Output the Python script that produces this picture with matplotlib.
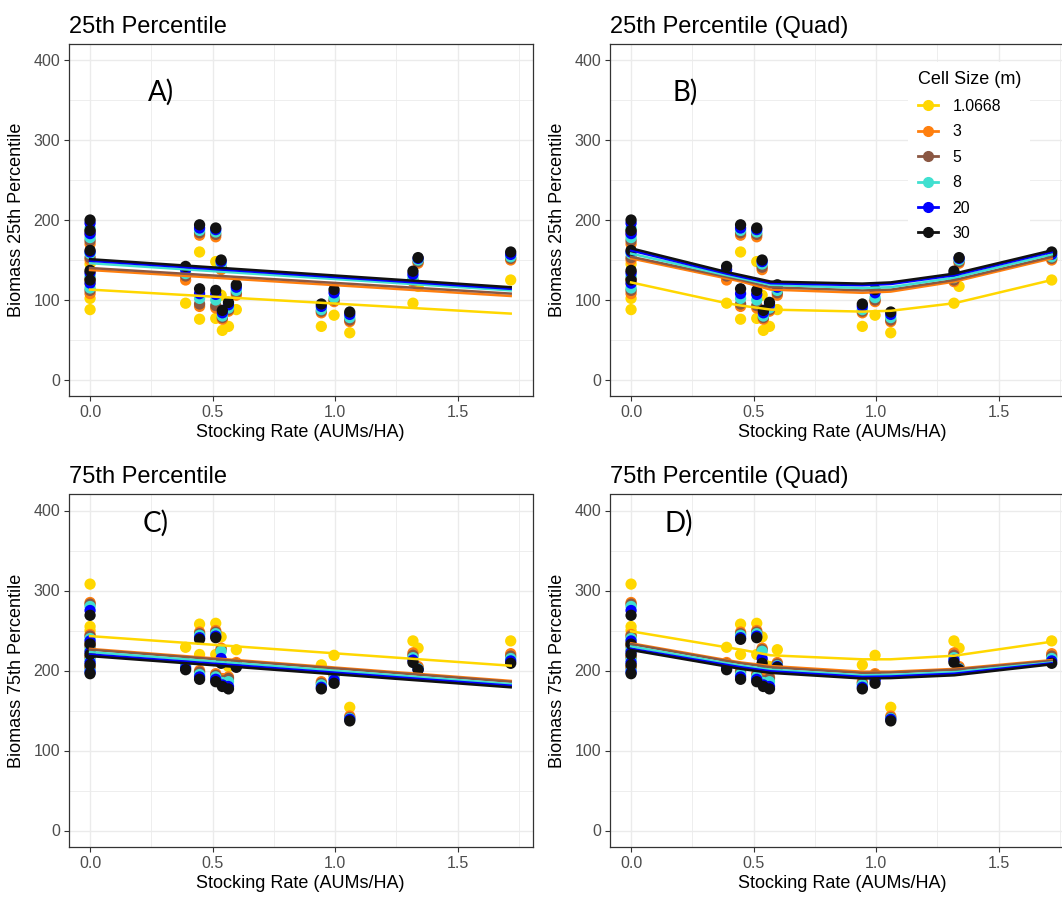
import matplotlib.pyplot as plt
from matplotlib.lines import Line2D

plt.rcParams['font.family'] = ['Liberation Sans', 'DejaVu Sans']

# cell sizes and colours
cells = ['1.0668', '3', '5', '8', '20', '30']
colors = ['#FFD700', '#FF7F0E', '#8B5742', '#40E0D0', '#0000FF', '#111111']

# stocking rate per site (AUMs/HA)
sr = [0, 0, 0, 0, 0, 0.39, 0.447, 0.447, 0.513, 0.513, 0.535, 0.54, 0.565, 0.597,
      0.944, 0.996, 1.06, 1.318, 1.339, 1.717]

# 25th percentile biomass per cell size
p25_1068 = [145, 135, 120, 102, 88, 96, 160, 76, 148, 77, 106, 62, 67, 88, 67, 81, 59, 96, 117, 125]
p25_3 = [182, 170, 150, 125, 108, 125, 181, 92, 179, 90, 138, 76, 86, 106, 84, 98, 73, 123, 146, 150]
p25_5 = [186, 174, 153, 127, 112, 130, 184, 95, 182, 93, 141, 78, 88, 109, 86, 100, 75, 125, 148, 152]
p25_8 = [190, 178, 158, 130, 115, 133, 187, 102, 185, 100, 145, 80, 90, 112, 88, 103, 78, 128, 150, 154]
p25_20 = [196, 183, 160, 134, 121, 138, 190, 108, 188, 107, 148, 84, 94, 116, 92, 109, 82, 132, 152, 157]
p25_30 = [200, 187, 162, 137, 125, 142, 194, 114, 190, 112, 150, 87, 97, 119, 95, 113, 85, 136, 153, 160]

# 75th percentile biomass per cell size
p75_1068 = [308, 255, 250, 235, 225, 229, 258, 220, 259, 220, 242, 210, 205, 226, 207, 219, 154, 237, 228, 237]
p75_3 = [285, 245, 232, 218, 205, 210, 248, 200, 250, 196, 228, 190, 192, 210, 186, 196, 143, 222, 205, 221]
p75_5 = [283, 243, 230, 216, 203, 208, 246, 198, 248, 194, 226, 187, 190, 208, 184, 194, 141, 219, 203, 218]
p75_8 = [280, 240, 226, 213, 200, 205, 244, 195, 246, 192, 224, 185, 186, 206, 182, 190, 140, 216, 202, 215]
p75_20 = [275, 237, 223, 210, 198, 203, 241, 192, 243, 189, 215, 182, 180, 205, 179, 188, 139, 213, 201, 212]
p75_30 = [269, 233, 220, 207, 196, 201, 239, 189, 241, 186, 209, 180, 177, 204, 177, 184, 137, 210, 201, 209]

# fitted lines
lin_x = [0, 1.717]
fit25_lin = [[113, 83], [137.5, 105], [140, 108], [146, 112], [149, 114], [151, 116]]
fit75_lin = [[243, 206], [227, 187], [226, 186], [223, 183], [220, 181], [218, 179]]
quad_x = [0, 0.39, 0.45, 0.57, 0.944, 1.06, 1.32, 1.717]
fit25_quad = [[122, 96, 93, 88, 85.5, 86.5, 96, 125],
              [152, 127, 123, 113, 109, 110.5, 123, 152],
              [154, 129, 125, 116, 112, 113, 125, 154],
              [158, 131, 127, 119, 115, 116, 128, 157],
              [162, 133, 129, 121, 118.5, 120, 131, 160],
              [164.6, 135, 131, 123, 120.5, 122, 133, 162]]
fit75_quad = [[249, 229, 226, 219, 214, 214, 218.5, 236],
              [234, 213, 210, 205.6, 198.5, 198.5, 202, 213],
              [233, 212, 209, 204, 197, 197.5, 201, 212],
              [230, 209, 206, 201, 194, 194.5, 198, 210],
              [227, 207, 204, 199, 192, 192.5, 196, 209],
              [225.6, 205, 202, 197, 190, 190.5, 194, 207.7]]

p25 = [p25_1068, p25_3, p25_5, p25_8, p25_20, p25_30]
p75 = [p75_1068, p75_3, p75_5, p75_8, p75_20, p75_30]

W, H = 1062, 899
fig = plt.figure(figsize=(W / 100, H / 100), dpi=100)


def make_ax(left, top):
    return fig.add_axes([left / W, 1 - (top + 352) / H, 463.5 / W, 352 / H])


def style(ax, title, ylabel, letter, lx, ly):
    ax.set_xlim(-0.086, 1.806)
    ax.set_ylim(-20, 420)
    ax.set_xticks([0, 0.5, 1.0, 1.5])
    ax.set_xticklabels(['0.0', '0.5', '1.0', '1.5'])
    ax.set_xticks([0.25, 0.75, 1.25, 1.75], minor=True)
    ax.set_yticks([0, 100, 200, 300, 400])
    ax.set_yticks([50, 150, 250, 350], minor=True)
    ax.grid(True, which='major', color='#EBEBEB', lw=1.0, zorder=0)
    ax.grid(True, which='minor', color='#EBEBEB', lw=0.6, zorder=0)
    ax.set_axisbelow(True)
    ax.tick_params(which='major', length=3.5, width=0.8, color='#333333',
                   labelcolor='#4D4D4D', labelsize=11.5, pad=3)
    ax.tick_params(which='minor', length=0)
    for s in ax.spines.values():
        s.set_color('#333333')
        s.set_linewidth(0.9)
    ax.set_title(title, loc='left', fontsize=17, pad=8)
    ax.set_xlabel('Stocking Rate (AUMs/HA)', fontsize=13, labelpad=3)
    ax.set_ylabel(ylabel, fontsize=13, labelpad=6)
    ax.text(lx, ly, letter, fontsize=20, family=['Lato', 'DejaVu Sans'],
            ha='left', va='center', zorder=5)


def draw(ax, data, fx, fits):
    for i in range(len(cells)):
        ax.scatter(sr, data[i], s=66, color=colors[i], edgecolors='none', zorder=2)
    for i in range(len(cells)):
        ax.plot(fx, fits[i], color=colors[i], lw=1.8, zorder=3)


axA = make_ax(69, 44)
axB = make_ax(610, 44)
axC = make_ax(69, 494.5)
axD = make_ax(610, 494.5)

draw(axA, p25, lin_x, fit25_lin)
draw(axB, p25, quad_x, fit25_quad)
draw(axC, p75, lin_x, fit75_lin)
draw(axD, p75, quad_x, fit75_quad)

style(axA, '25th Percentile', 'Biomass 25th Percentile', 'A)', 0.238, 360)
style(axB, '25th Percentile (Quad)', 'Biomass 25th Percentile', 'B)', 0.17, 360)
style(axC, '75th Percentile', 'Biomass 75th Percentile', 'C)', 0.213, 384)
style(axD, '75th Percentile (Quad)', 'Biomass 75th Percentile', 'D)', 0.136, 384)

handles = [Line2D([], [], color=c, marker='o', markersize=7, lw=2) for c in colors]
leg = axB.legend(handles, cells, title='Cell Size (m)', loc='upper left',
                 bbox_to_anchor=(0.626, 0.972), frameon=True, fontsize=11.4,
                 title_fontsize=13, handlelength=1.3, labelspacing=0.66,
                 borderpad=0.6, handletextpad=0.9)
leg.get_frame().set_facecolor('white')
leg.get_frame().set_edgecolor('none')
leg.get_frame().set_alpha(1)
leg._legend_box.align = 'left'
leg.set_zorder(10)

fig.savefig('out.png', dpi=100)
